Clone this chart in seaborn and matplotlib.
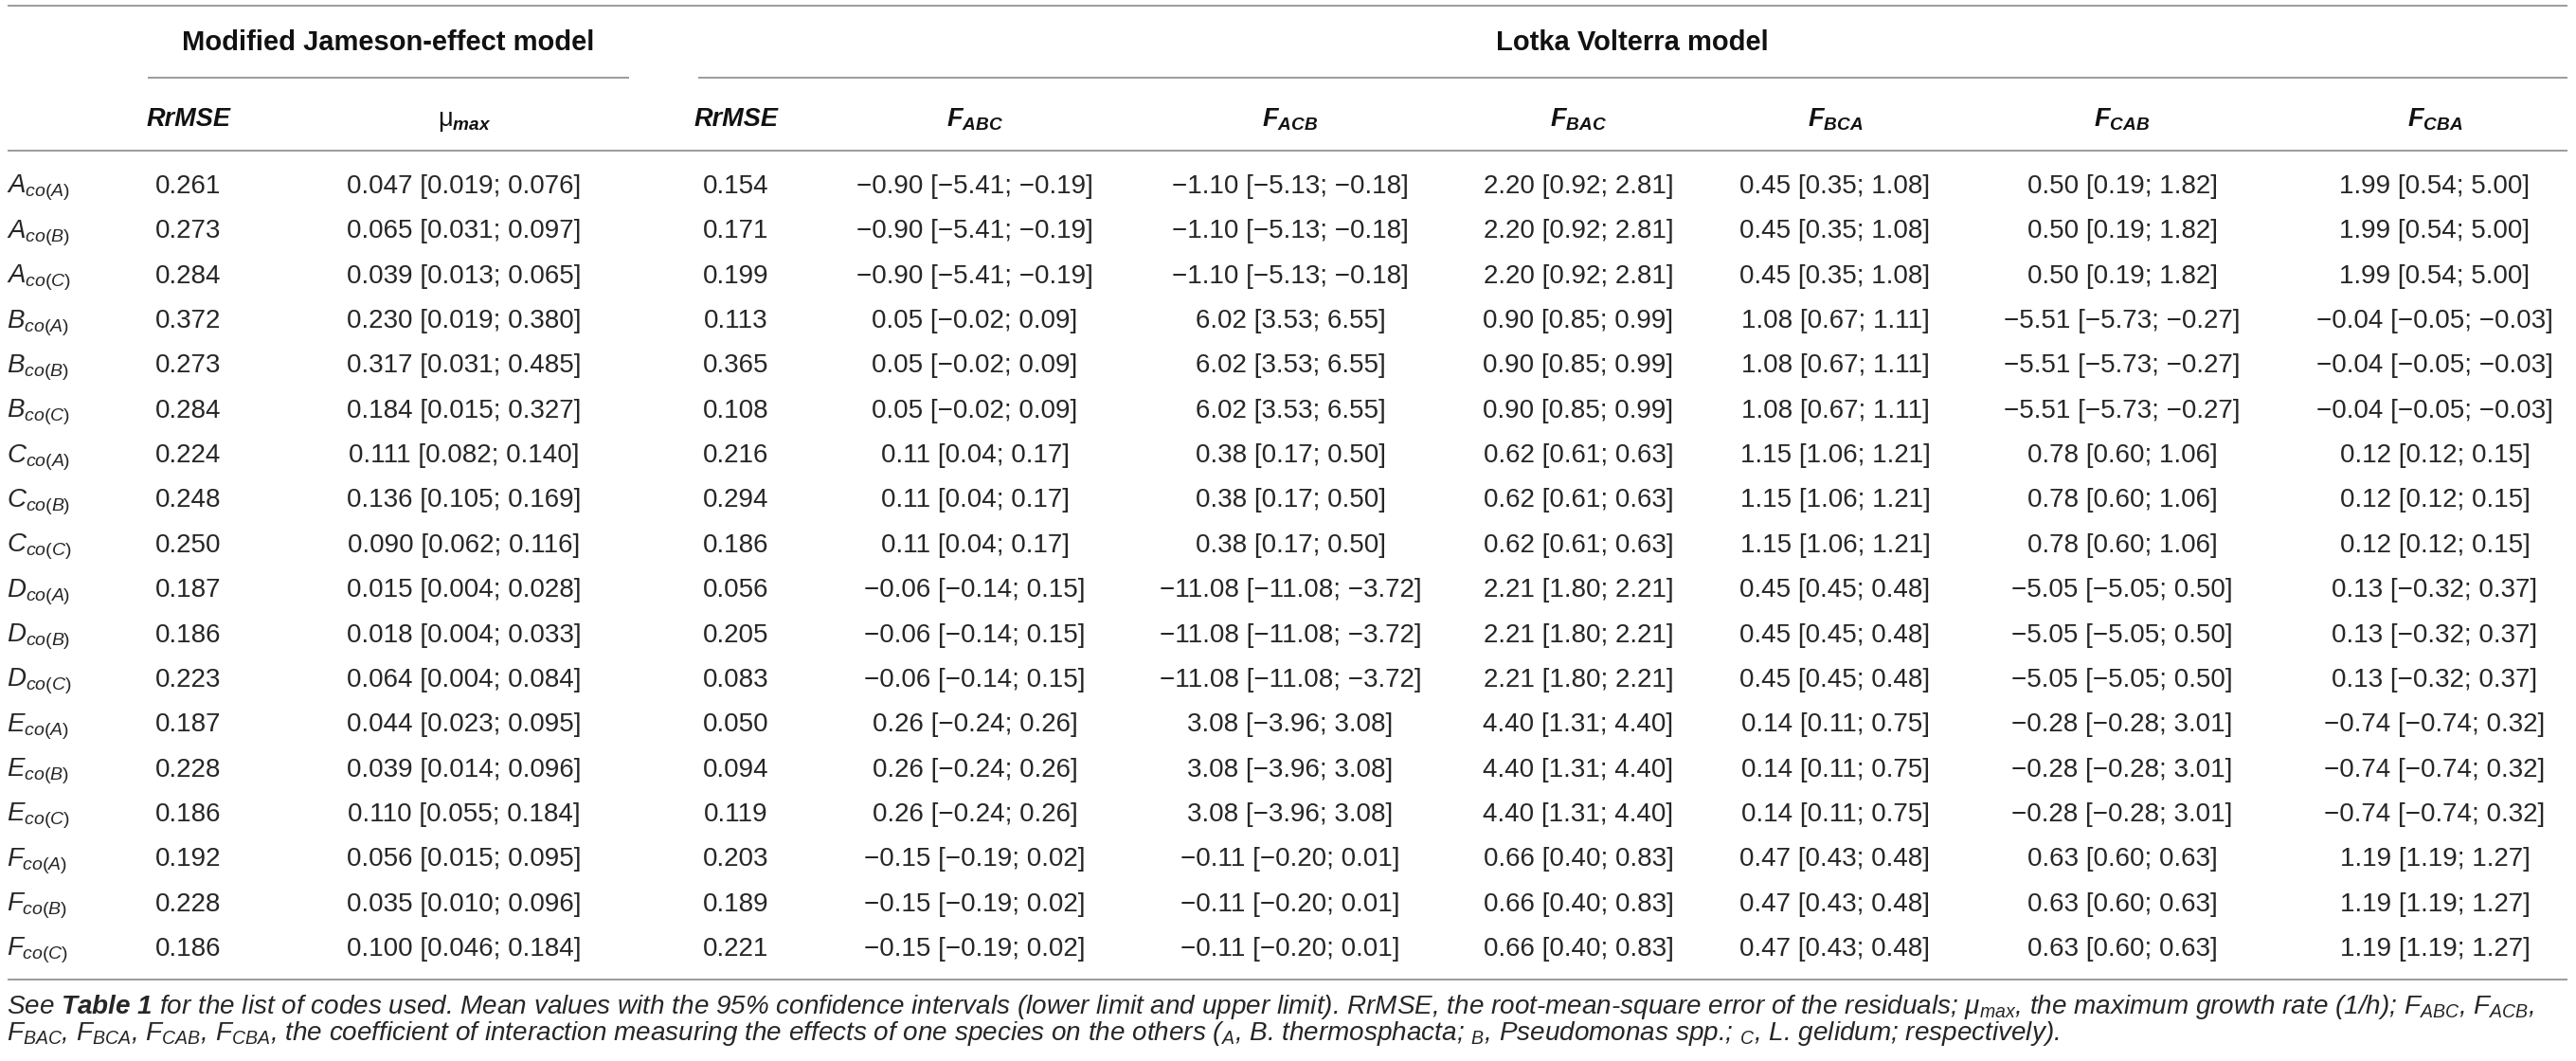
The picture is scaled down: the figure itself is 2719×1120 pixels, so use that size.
import numpy as np
import matplotlib
matplotlib.use("Agg")
import matplotlib.pyplot as plt
import seaborn as sns

# ─────────────────────────────────────────────
# DATOS (leídos de la tabla)
# ─────────────────────────────────────────────
especies = ["A", "B", "C", "D", "E", "F"]
cultivos = ["A", "B", "C"]

rrmse_jameson = [0.261, 0.273, 0.284, 0.372, 0.273, 0.284, 0.224, 0.248, 0.250,
                 0.187, 0.186, 0.223, 0.187, 0.228, 0.186, 0.192, 0.228, 0.186]
mu_media = [0.047, 0.065, 0.039, 0.230, 0.317, 0.184, 0.111, 0.136, 0.090,
            0.015, 0.018, 0.064, 0.044, 0.039, 0.110, 0.056, 0.035, 0.100]
mu_inf = [0.019, 0.031, 0.013, 0.019, 0.031, 0.015, 0.082, 0.105, 0.062,
          0.004, 0.004, 0.004, 0.023, 0.014, 0.055, 0.015, 0.010, 0.046]
mu_sup = [0.076, 0.097, 0.065, 0.380, 0.485, 0.327, 0.140, 0.169, 0.116,
          0.028, 0.033, 0.084, 0.095, 0.096, 0.184, 0.095, 0.096, 0.184]
rrmse_lv = [0.154, 0.171, 0.199, 0.113, 0.365, 0.108, 0.216, 0.294, 0.186,
            0.056, 0.205, 0.083, 0.050, 0.094, 0.119, 0.203, 0.189, 0.221]

# coeficientes de interacción (media, inferior, superior) por especie A..F
f_abc = [(-0.90, -5.41, -0.19), (0.05, -0.02, 0.09), (0.11, 0.04, 0.17),
         (-0.06, -0.14, 0.15), (0.26, -0.24, 0.26), (-0.15, -0.19, 0.02)]
f_acb = [(-1.10, -5.13, -0.18), (6.02, 3.53, 6.55), (0.38, 0.17, 0.50),
         (-11.08, -11.08, -3.72), (3.08, -3.96, 3.08), (-0.11, -0.20, 0.01)]
f_bac = [(2.20, 0.92, 2.81), (0.90, 0.85, 0.99), (0.62, 0.61, 0.63),
         (2.21, 1.80, 2.21), (4.40, 1.31, 4.40), (0.66, 0.40, 0.83)]
f_bca = [(0.45, 0.35, 1.08), (1.08, 0.67, 1.11), (1.15, 1.06, 1.21),
         (0.45, 0.45, 0.48), (0.14, 0.11, 0.75), (0.47, 0.43, 0.48)]
f_cab = [(0.50, 0.19, 1.82), (-5.51, -5.73, -0.27), (0.78, 0.60, 1.06),
         (-5.05, -5.05, 0.50), (-0.28, -0.28, 3.01), (0.63, 0.60, 0.63)]
f_cba = [(1.99, 0.54, 5.00), (-0.04, -0.05, -0.03), (0.12, 0.12, 0.15),
         (0.13, -0.32, 0.37), (-0.74, -0.74, 0.32), (1.19, 1.19, 1.27)]

encabezados = [r"RrMSE", r"$\mathrm{μ}_{\mathbf{max}}$", r"RrMSE",
               r"$\mathbf{F}_{\mathbf{ABC}}$", r"$\mathbf{F}_{\mathbf{ACB}}$",
               r"$\mathbf{F}_{\mathbf{BAC}}$", r"$\mathbf{F}_{\mathbf{BCA}}$",
               r"$\mathbf{F}_{\mathbf{CAB}}$", r"$\mathbf{F}_{\mathbf{CBA}}$"]

nota_1 = (r"See $\mathbf{Table\ 1}$ for the list of codes used. Mean values with the 95% "
          r"confidence intervals (lower limit and upper limit). RrMSE, the root-mean-square "
          r"error of the residuals; $\mu_{max}$, the maximum growth rate (1/h); "
          r"$F_{ABC}$, $F_{ACB}$,")
nota_2 = (r"$F_{BAC}$, $F_{BCA}$, $F_{CAB}$, $F_{CBA}$, the coefficient of interaction "
          r"measuring the effects of one species on the others (${}_{A}$, B. thermosphacta; "
          r"${}_{B}$, Pseudomonas spp.; ${}_{C}$, L. gelidum; respectively).")

# ─────────────────────────────────────────────
# ESTILO
# ─────────────────────────────────────────────
sns.set_theme(style="white")
plt.rcParams["font.family"] = ["Liberation Sans", "DejaVu Sans"]
plt.rcParams["mathtext.fontset"] = "custom"
plt.rcParams["mathtext.rm"] = "Liberation Sans"
plt.rcParams["mathtext.it"] = "Liberation Sans:italic"
plt.rcParams["mathtext.bf"] = "Liberation Sans:bold:italic"

COLOR_TEXTO = "#262626"
COLOR_LINEA = "#9b9b9b"
W, H = 2719, 1120


def fmt(v, d=2):
    return f"{v:.{d}f}".replace("-", "\u2212")


def fmt_ic(m, lo, hi, d=2):
    return f"{fmt(m, d)} [{fmt(lo, d)}; {fmt(hi, d)}]"


# ─────────────────────────────────────────────
# CONSTRUCCIÓN DE FILAS
# ─────────────────────────────────────────────
etiquetas = [rf"$\mathit{{{e}}}_{{\mathit{{co({c})}}}}$" for e in especies for c in cultivos]
col_mu = [fmt_ic(m, lo, hi, 3) for m, lo, hi in zip(mu_media, mu_inf, mu_sup)]
cols_f = [[fmt_ic(*t) for t in np.repeat(np.array(f), 3, axis=0)]
          for f in (f_abc, f_acb, f_bac, f_bca, f_cab, f_cba)]

columnas = ([[fmt(v, 3) for v in rrmse_jameson], col_mu, [fmt(v, 3) for v in rrmse_lv]]
            + cols_f)
x_cols = [199, 490, 777, 1029, 1362, 1666, 1937, 2240, 2570]

fig = plt.figure(figsize=(W / 100, H / 100), dpi=100, facecolor="white")
ax = fig.add_axes([0, 0, 1, 1])
ax.set_xlim(0, W)
ax.set_ylim(H, 0)
ax.axis("off")

# Líneas horizontales
ax.hlines([6, 159, 1034], 8, 2710, color=COLOR_LINEA, lw=1.4)
ax.hlines(82, 156, 664, color=COLOR_LINEA, lw=1.4)
ax.hlines(82, 737, 2710, color=COLOR_LINEA, lw=1.4)

# Encabezados de grupo
ax.text(410, 53, "Modified Jameson-effect model", ha="center", va="baseline",
        fontsize=21, fontweight="bold", color="#111111")
ax.text(1723, 53, "Lotka Volterra model", ha="center", va="baseline",
        fontsize=21, fontweight="bold", color="#111111")

# Encabezados de columna
for x, enc in zip(x_cols, encabezados):
    ax.text(x, 133, enc, ha="center", va="baseline", fontsize=19.5,
            fontweight="bold", fontstyle="italic", color="#111111")

# Filas
y0, paso = 204, 47.35
for i, etq in enumerate(etiquetas):
    y = y0 + paso * i
    ax.text(7, y, etq, ha="left", va="baseline", fontsize=20, color=COLOR_TEXTO)
    for x, col in zip(x_cols, columnas):
        ax.text(x, y, col[i], ha="center", va="baseline", fontsize=20,
                color=COLOR_TEXTO)

# Nota al pie (ajustada al ancho de la tabla)
t1 = ax.text(7, 1070, nota_1, ha="left", va="baseline", fontsize=18,
             fontstyle="italic", color=COLOR_TEXTO)
fig.canvas.draw()
ancho = t1.get_window_extent().width
tam = 18 * (2669 / ancho)
t1.set_fontsize(tam)
ax.text(7, 1098, nota_2, ha="left", va="baseline", fontsize=tam,
        fontstyle="italic", color=COLOR_TEXTO)

fig.savefig("out.png", dpi=100, facecolor="white")
